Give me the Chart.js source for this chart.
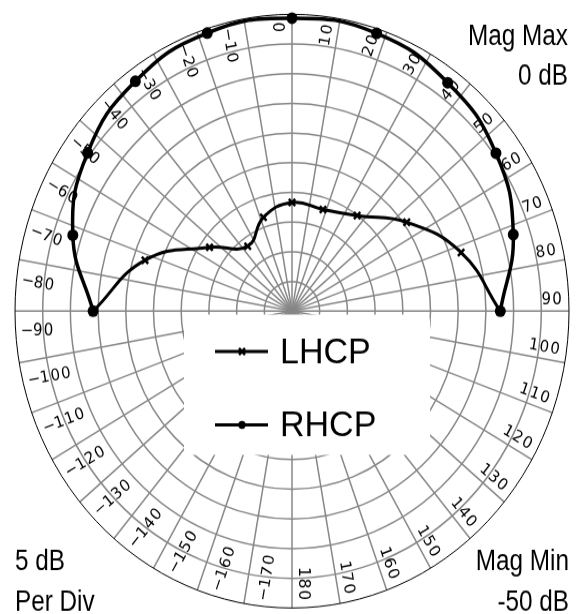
<!DOCTYPE html>
<html>
<head>
<meta charset="utf-8">
<script src="https://cdn.jsdelivr.net/npm/chart.js@4.4.0/dist/chart.umd.min.js"></script>
<style>
  html, body { margin: 0; padding: 0; background: #fff; }
  #page { width: 582px; height: 614px; overflow: hidden; }
  /* the reference plot is a circle stretched a little taller than wide */
  #wrap { width: 582px; height: 573px; transform: scale(1, 1.0716); transform-origin: 0 0; }
</style>
</head>
<body>
<div id="page"><div id="wrap"><canvas id="polar" width="582" height="573"></canvas></div></div>
<script>
// cut angles in degrees (clockwise from top) and magnitudes in dB
const angles = [-90, -72, -54, -36, -18, 0, 18, 36, 54, 72, 90];
const lhcp = [-14.1, -22.1, -31.6, -36.4, -33.3, -31.6, -31.9, -30.0, -24.4, -17.9, -12.4];
const rhcp = [-14.1, -8.4, -4.4, -1.9, -0.5, -0.4, -0.55, -2.2, -4.5, -8.0, -12.4];

// angle tick labels, radial range
const angleTicks = [-170, -160, -150, -140, -130, -120, -110, -100, -90, -80, -70, -60, -50, -40, -30, -20, -10,
    0, 10, 20, 30, 40, 50, 60, 70, 80, 90, 100, 110, 120, 130, 140, 150, 160, 170, 180];
const magMin = -50;
const magMax = 0;
const perDiv = 5;
const span = magMax - magMin;

function toXY(deg, db) {
    const r = db - magMin;
    const a = deg * Math.PI / 180;
    return { x: r * Math.sin(a), y: r * Math.cos(a) };
}

// slightly condensed corner text
function note(ctx, text, x, y, align) {
    ctx.save();
    ctx.translate(x, y);
    ctx.scale(0.9, 1);
    ctx.textAlign = align;
    ctx.fillText(text, 0, 0);
    ctx.restore();
}

const polarGrid = {
    id: 'polarGrid',
    beforeDatasetsDraw(chart) {
        const { ctx, scales: { x, y } } = chart;
        const cx = x.getPixelForValue(0);
        const cy = y.getPixelForValue(0);
        const rad = v => x.getPixelForValue(v) - cx;
        const R = rad(span);

        ctx.save();
        // rings
        ctx.strokeStyle = '#878787';
        ctx.lineWidth = 1.5;
        for (let d = perDiv; d < span; d += perDiv) {
            ctx.beginPath();
            ctx.arc(cx, cy, rad(d), 0, Math.PI * 2);
            ctx.stroke();
        }
        // spokes
        angleTicks.forEach(deg => {
            const a = deg * Math.PI / 180;
            ctx.beginPath();
            ctx.moveTo(cx, cy);
            ctx.lineTo(cx + R * Math.sin(a), cy - R * Math.cos(a));
            ctx.stroke();
        });
        ctx.strokeStyle = '#000';
        ctx.lineWidth = 1;
        ctx.beginPath();
        ctx.arc(cx, cy, R, 0, Math.PI * 2);
        ctx.stroke();

        // angle labels, one char at a time along the spoke
        ctx.fillStyle = '#000';
        ctx.font = '15px "DejaVu Sans"';
        ctx.textAlign = 'center';
        ctx.textBaseline = 'middle';
        angleTicks.forEach(deg => {
            const txt = deg < 0 ? '\u2212' + Math.abs(deg) : String(deg);
            const chars = [...txt];
            const a = deg * Math.PI / 180;
            const ux = Math.sin(a), uy = -Math.cos(a);
            const tx = -Math.cos(a), ty = -Math.sin(a);
            const off = deg < 0 ? 18.5 : 10.5;
            const rot = (deg < 0 ? deg + 90 : deg - 90) * Math.PI / 180;
            chars.forEach((ch, i) => {
                const k = deg < 0 ? i : chars.length - 1 - i;
                const r = R - 12 - k * 10.8;
                ctx.save();
                ctx.translate(cx + ux * r + tx * off, cy + uy * r + ty * off);
                ctx.rotate(rot);
                ctx.fillText(ch, 0, 0);
                ctx.restore();
            });
        });

        // legend
        ctx.fillStyle = '#fff';
        ctx.beginPath();
        if (ctx.roundRect) ctx.roundRect(184, 293.5, 246, 131, 6);
        else ctx.rect(184, 293.5, 246, 131);
        ctx.fill();
        const items = [
            { label: 'LHCP', y: 328, base: 338.5, style: 'cross' },
            { label: 'RHCP', y: 396.5, base: 406.7, style: 'circle' }
        ];
        ctx.strokeStyle = '#000';
        ctx.fillStyle = '#000';
        items.forEach(it => {
            ctx.lineWidth = 3;
            ctx.beginPath();
            ctx.moveTo(215, it.y);
            ctx.lineTo(268, it.y);
            ctx.stroke();
            if (it.style === 'circle') {
                ctx.beginPath();
                ctx.arc(242, it.y, 3.7, 0, Math.PI * 2);
                ctx.fill();
            } else {
                ctx.lineWidth = 2.5;
                ctx.beginPath();
                ctx.moveTo(239, it.y - 3); ctx.lineTo(245, it.y + 3);
                ctx.moveTo(239, it.y + 3); ctx.lineTo(245, it.y - 3);
                ctx.stroke();
            }
            ctx.font = '34px "Liberation Sans", Arial';
            ctx.textAlign = 'left';
            ctx.textBaseline = 'alphabetic';
            ctx.fillText(it.label, 280, it.base);
        });

        // corner notes
        ctx.font = '27px "Liberation Sans", Arial';
        ctx.textBaseline = 'alphabetic';
        note(ctx, 'Mag Max', 568, 42, 'right');
        note(ctx, magMax + ' dB', 568, 78.5, 'right');
        note(ctx, 'Mag Min', 569, 532, 'right');
        note(ctx, magMin + ' dB', 569, 570, 'right');
        note(ctx, perDiv + ' dB', 15, 532, 'left');
        note(ctx, 'Per Div', 15, 570, 'left');
        ctx.restore();
    }
};

new Chart(document.getElementById('polar'), {
    type: 'scatter',
    data: {
        datasets: [{
            label: 'LHCP',
            data: angles.map((a, i) => toXY(a, lhcp[i])),
            showLine: true,
            borderColor: '#000',
            borderWidth: 3,
            tension: 0.45,
            pointStyle: 'crossRot',
            pointRadius: 4.5,
            pointBorderWidth: 2.5,
            pointBorderColor: '#000',
            pointBackgroundColor: '#000',
            order: 1,
            clip: false
        }, {
            label: 'RHCP',
            data: angles.map((a, i) => toXY(a, rhcp[i])),
            showLine: true,
            borderColor: '#000',
            borderWidth: 3.5,
            tension: 0.45,
            pointStyle: 'circle',
            pointRadius: 5.5,
            pointBorderWidth: 0,
            pointBackgroundColor: '#000',
            order: 0,
            clip: false
        }]
    },
    options: {
        responsive: false,
        animation: false,
        layout: { padding: { left: 15, right: 13, top: 14.7, bottom: 4.3 } },
        scales: {
            x: { type: 'linear', min: -span, max: span, display: false },
            y: { type: 'linear', min: -span, max: span, display: false }
        },
        plugins: {
            legend: { display: false },
            tooltip: { enabled: false }
        }
    },
    plugins: [polarGrid]
});
</script>
</body>
</html>
